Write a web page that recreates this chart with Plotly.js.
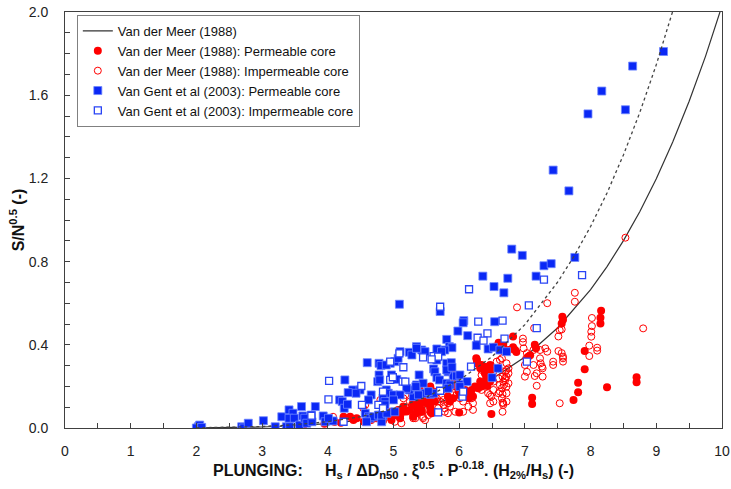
<!DOCTYPE html>
<html><head><meta charset="utf-8">
<script src="https://cdn.plot.ly/plotly-3.0.1.min.js"></script>
<style>html,body{margin:0;padding:0;background:#fff}</style>
</head><body><div id="chart" style="width:731px;height:489px"></div>
<script>
// Van der Meer (1988) curve (solid)
const vdmLineX = [2, 2.5, 3, 3.5, 4, 4.5, 5, 5.5, 6, 6.5, 7, 7.5, 8, 8.25, 8.5, 8.75, 9, 9.25, 9.5, 9.75, 10];
const vdmLineY = [0.0007, 0.002, 0.0049, 0.0107, 0.0208, 0.0374, 0.0634, 0.102, 0.158, 0.236, 0.341, 0.482, 0.665, 0.776, 0.901, 1.041, 1.198, 1.375, 1.571, 1.788, 2.03];
// dotted curve
const dotLineX = [2, 2.5, 3, 3.5, 4, 4.5, 5, 5.5, 6, 6.5, 7, 7.5, 7.75, 8, 8.25, 8.5, 8.75, 9, 9.25];
const dotLineY = [0.0009, 0.0029, 0.0072, 0.0155, 0.0303, 0.0546, 0.0924, 0.149, 0.230, 0.343, 0.497, 0.702, 0.827, 0.969, 1.130, 1.313, 1.518, 1.747, 2.004];

// Van der Meer (1988): Permeable core
const vdmPermX = [8.16,8.15,8.15,7.58,7.56,7.57,7.91,7.91,7.81,7.81,7.74,8.25,8.70,8.70,
6.82,6.85,6.82,6.87,7.15,7.17,7.08,7.05,6.67,7.11,7.11,
6.26,6.27,6.34,6.32,6.39,6.47,6.48,6.41,6.34,6.29,6.34,6.43,6.54,6.60,6.62,6.67,6.75,6.19,6.21,6.11,6.15,6.00,6.49,
5.40,5.45,5.43,5.50,5.35,5.56,5.58,5.63,5.56,5.43,5.30,5.83,5.86,5.91,5.99,6.01,6.09,
5.89,5.94,5.91,5.94,5.56,5.61,5.51,5.61,5.53,5.56,5.58,
5.40,5.30,5.40,5.25,5.43,5.35,5.15,5.10,5.00,4.95,
6.27,6.32,6.39,6.42,6.32,6.24,6.47,6.67,
4.90,5.07,5.15,5.20,5.30,5.10,4.97,4.84,4.74,4.66,4.24,4.34,4.44,4.39,
3.63,3.95,4.10,4.20,4.55,4.62];
const vdmPermY = [0.564,0.53,0.503,0.52,0.503,0.535,0.37,0.282,0.218,0.172,0.135,0.196,0.244,0.22,
0.44,0.375,0.388,0.365,0.40,0.383,0.35,0.343,0.407,0.146,0.115,
0.335,0.311,0.303,0.287,0.295,0.303,0.279,0.25,0.215,0.191,0.199,0.202,0.391,0.41,0.378,0.37,0.375,0.183,0.151,0.167,0.143,0.074,0.067,
0.183,0.151,0.127,0.119,0.103,0.103,0.135,0.127,0.078,0.078,0.119,0.151,0.127,0.143,0.175,0.159,0.183,
0.263,0.231,0.215,0.199,0.199,0.175,0.167,0.151,0.127,0.095,0.071,
0.135,0.111,0.103,0.087,0.087,0.071,0.078,0.054,0.062,0.078,
0.327,0.295,0.263,0.223,0.223,0.199,0.223,0.399,
0.054,0.087,0.103,0.079,0.054,0.047,0.038,0.035,0.047,0.038,0.054,0.054,0.047,0.038,
0.014,0.02,0.03,0.025,0.03,0.042];

// Van der Meer (1988): Impermeable core
const vdmImpX = [8.53,7.76,7.76,6.88,7.34,7.14,7.53,7.51,6.97,6.97,7.13,7.34,7.51,7.56,7.58,7.58,7.03,7.02,7.23,7.24,7.27,7.43,7.43,7.13,7.03,7.00,7.15,7.18,7.27,6.66,6.68,6.66,6.66,6.66,7.53,6.72,6.75,6.70,6.72,
8.80,8.02,8.02,8.01,8.01,7.98,7.98,8.10,8.10,7.56,7.58,
6.34,6.44,6.42,6.52,6.60,6.62,6.67,6.72,6.70,6.62,6.34,6.44,6.49,6.47,6.62,6.65,6.67,6.72,6.72,5.81,5.86,5.73,5.71,5.83,5.78,5.30,5.45,5.48,5.28,5.96,6.14,6.06,6.57,6.65,
6.98,7.23,7.31,7.00,7.18,7.26,
6.34,6.47,6.52,6.60,6.72,6.75,6.70,6.75,6.65,6.52,6.47,6.60,6.52,6.67,
5.96,6.01,6.14,6.19,6.21,6.14,6.21,6.06,5.94,5.83,
5.66,5.76,5.76,5.68,5.63,5.78,5.86,
5.18,5.15,5.25,5.20,5.30,5.33,5.45,5.53,
4.80,4.90,5.00,5.30,4.08,4.11,4.54,4.57,5.02,5.12];
const vdmImpY = [0.915,0.65,0.607,0.58,0.60,0.48,0.47,0.44,0.43,0.413,0.375,0.367,0.37,0.36,0.335,0.319,0.36,0.335,0.335,0.311,0.287,0.319,0.303,0.303,0.27,0.247,0.25,0.203,0.247,0.247,0.207,0.163,0.122,0.078,0.119,0.279,0.263,0.23,0.199,
0.479,0.529,0.49,0.463,0.439,0.396,0.346,0.386,0.372,0.474,0.343,
0.255,0.239,0.223,0.223,0.239,0.207,0.223,0.247,0.271,0.327,0.183,0.167,0.151,0.119,0.175,0.143,0.111,0.167,0.127,0.183,0.167,0.151,0.127,0.119,0.095,0.047,0.054,0.038,0.111,0.207,0.151,0.127,0.319,0.335,
0.383,0.375,0.383,0.303,0.263,0.295,
0.279,0.287,0.271,0.287,0.311,0.287,0.239,0.215,0.191,0.183,0.159,0.167,0.127,0.119,
0.159,0.143,0.167,0.143,0.119,0.103,0.087,0.078,0.078,0.071,
0.143,0.135,0.111,0.095,0.078,0.078,0.103,
0.159,0.143,0.127,0.095,0.062,0.047,0.047,0.062,
0.135,0.151,0.135,0.135,0.054,0.030,0.095,0.111,0.030,0.023];

// Van Gent et al (2003): Permeable core
const vgPermX = [9.11,8.64,8.17,8.53,7.96,7.43,7.67,6.80,6.96,7.76,7.29,7.40,6.36,6.74,7.17,6.53,6.68,
5.09,5.71,6.07,6.06,6.54,5.98,6.13,6.26,6.44,6.52,6.62,6.72,
5.81,5.85,5.89,5.78,5.66,5.73,5.35,5.43,5.48,5.66,5.81,5.88,5.61,5.63,5.66,5.70,5.39,5.35,5.35,5.45,
5.83,5.91,5.96,5.81,5.86,6.01,6.50,6.59,5.48,5.56,5.61,5.30,
4.60,4.78,4.78,4.76,4.79,4.26,5.02,5.07,5.24,5.28,5.35,4.97,5.05,4.89,4.92,4.38,4.49,4.43,4.31,
4.18,4.22,4.25,4.30,4.66,4.62,5.00,5.24,5.34,3.81,3.93,3.96,4.08,4.57,4.62,4.64,4.69,4.77,4.84,4.59,4.82,4.84,4.87,3.75,
2.03,2.05,2.00,2.08,2.69,2.72,2.79,3.02,3.20,3.37,3.42,3.30,3.41,3.47,3.41,3.49,3.60,3.62,3.57,3.65,3.68,3.76,
4.81,4.01,5.10,4.95,4.89,5.81,5.89,6.01,6.12,6.01,5.83,5.38,5.53,5.20,5.10,5.00,4.87,4.82,4.90,5.02];
const vgPermY = [1.81,1.74,1.62,1.53,1.51,1.24,1.14,0.86,0.83,0.82,0.78,0.79,0.73,0.72,0.73,0.68,0.65,
0.595,0.56,0.516,0.506,0.511,0.466,0.444,0.396,0.38,0.388,0.375,0.367,
0.426,0.391,0.386,0.375,0.38,0.367,0.391,0.375,0.367,0.327,0.311,0.314,0.284,0.27,0.242,0.231,0.255,0.207,0.191,0.215,
0.27,0.25,0.25,0.215,0.207,0.21,0.242,0.287,0.167,0.162,0.167,0.151,
0.314,0.311,0.255,0.223,0.231,0.231,0.319,0.335,0.364,0.351,0.383,0.255,0.234,0.183,0.167,0.183,0.183,0.167,0.170,
0.135,0.127,0.095,0.114,0.159,0.135,0.159,0.183,0.199,0.103,0.058,0.030,0.034,0.071,0.054,0.047,0.054,0.062,0.058,0.030,0.030,0.143,0.127,0.062,
0.006,0.014,0.0,0.003,0.006,0.0,0.023,0.035,0.006,0.006,0.006,0.054,0.087,0.071,0.047,0.047,0.103,0.058,0.014,0.047,0.023,0.030,
0.30,0.047,0.367,0.311,0.303,0.279,0.292,0.255,0.223,0.199,0.191,0.159,0.175,0.191,0.159,0.135,0.111,0.062,0.071,0.078];

// Van Gent et al (2003): Impermeable core
const vgImpX = [7.87,7.29,6.15,5.71,7.06,6.66,7.18,6.69,7.03,6.29,6.43,6.28,6.37,5.45,5.61,5.68,6.18,5.71,6.05,5.68,
4.02,4.01,4.51,4.84,4.95,5.09,4.95,4.99,5.15,5.14,5.18,4.52,4.77,4.84,4.24,3.75,5.58,6.06];
const vgImpY = [0.735,0.713,0.667,0.583,0.59,0.516,0.48,0.43,0.319,0.511,0.455,0.434,0.42,0.34,0.346,0.343,0.295,0.179,0.151,0.075,
0.227,0.138,0.202,0.175,0.319,0.359,0.231,0.244,0.292,0.223,0.223,0.111,0.111,0.095,0.030,0.059,0.33,0.175];

const RED = '#ff0000';
const BLUE = '#0a28f5';
const FONT = 'Liberation Sans, Arial, sans-serif';

const traces = [
  {x: vdmLineX, y: vdmLineY, mode: 'lines', name: 'Van der Meer (1988)',
   line: {color: '#333333', width: 1.2}},
  {x: vdmPermX, y: vdmPermY, mode: 'markers', name: 'Van der Meer (1988): Permeable core',
   marker: {symbol: 'circle', size: 8, color: RED, line: {width: 0}}},
  {x: vdmImpX, y: vdmImpY, mode: 'markers', name: 'Van der Meer (1988): Impermeable core',
   marker: {symbol: 'circle-open', size: 7, color: RED, line: {width: 1, color: RED}}},
  {x: vgPermX, y: vgPermY, mode: 'markers', name: 'Van Gent et al (2003): Permeable core',
   marker: {symbol: 'square', size: 8, color: BLUE, line: {width: 0.8, color: '#6f86ff'}}},
  {x: vgImpX, y: vgImpY, mode: 'markers', name: 'Van Gent et al (2003): Impermeable core',
   marker: {symbol: 'square', size: 7, color: '#ffffff', line: {width: 1.3, color: '#2a45f5'}}},
  {x: dotLineX, y: dotLineY, mode: 'lines', name: 'dotted', showlegend: false,
   line: {color: '#444444', width: 1.3, dash: 'dot'}}
];

const sp = '\u00A0';
const layout = {
  width: 731, height: 489,
  margin: {l: 65, r: 9, t: 12, b: 61},
  paper_bgcolor: '#ffffff', plot_bgcolor: '#ffffff',
  font: {family: FONT, size: 14, color: '#222'},
  showlegend: true,
  legend: {x: 0.018, y: 0.993, xanchor: 'left', yanchor: 'top',
    bgcolor: '#ffffff', bordercolor: '#808080', borderwidth: 1,
    font: {family: FONT, size: 13, color: '#111'}, tracegroupgap: 0},
  xaxis: {range: [0, 10], tick0: 0, dtick: 1, ticks: 'inside', ticklen: 5, tickcolor: '#404040',
    showline: true, linecolor: '#404040', linewidth: 1, mirror: true, showgrid: false, zeroline: false,
    minor: {dtick: 0.5, ticks: 'inside', ticklen: 5, tickcolor: '#404040'},
    ticklabelstandoff: 10,
    tickfont: {family: FONT, size: 14, color: '#222'},
    title: {text: '<b>PLUNGING:' + sp+sp+sp+sp+sp + 'H<sub>s</sub> / \u0394D<sub>n50</sub> . \u03BE<sup>0.5</sup> . P<sup>-0.18</sup>. (H<sub>2%</sub>/H<sub>s</sub>) (-)</b>',
      font: {family: FONT, size: 16, color: '#111'}, standoff: 5}},
  yaxis: {range: [0, 2], tick0: 0, dtick: 0.4, tickformat: '.1f', ticks: 'inside', ticklen: 5, tickcolor: '#404040',
    showline: true, linecolor: '#404040', linewidth: 1, mirror: true, showgrid: false, zeroline: false,
    minor: {dtick: 0.1, ticks: 'inside', ticklen: 5, tickcolor: '#404040'},
    ticklabelstandoff: 13,
    tickfont: {family: FONT, size: 14, color: '#222'},
    title: {text: '<b>S/N<sup>0.5</sup> (-)</b>', font: {family: FONT, size: 16, color: '#111'}, standoff: 0}}
};

Plotly.newPlot('chart', traces, layout, {displayModeBar: false, staticPlot: true});
</script></body></html>
